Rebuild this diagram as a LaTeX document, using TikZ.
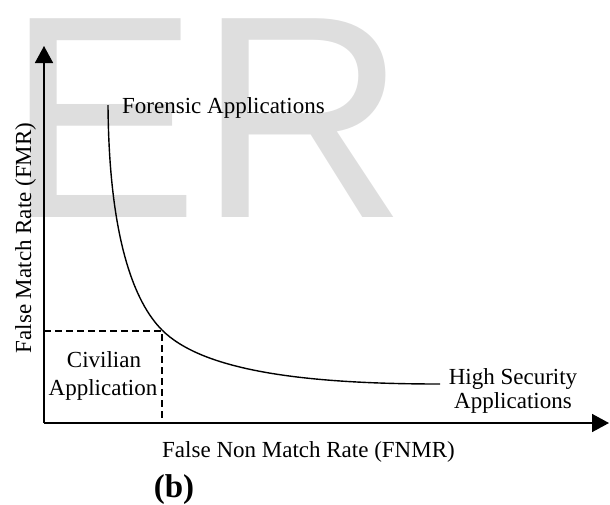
\documentclass[tikz,border=0pt]{standalone}
\usepackage{fontspec}
\setmainfont{Liberation Serif}
\newfontfamily\wmfont{Liberation Sans}
\usetikzlibrary{arrows.meta}
\definecolor{wm}{RGB}{222,222,222}
\begin{document}
\begin{tikzpicture}[x=1pt,y=-1pt,
  lbl/.style={inner sep=0pt, font=\fontsize{23}{24}\selectfont},
  axisline/.style={line width=1.6pt, -{Triangle[length=17pt,width=18pt]}},
  dashline/.style={line width=1.3pt, dash pattern=on 7pt off 4pt},
  curveline/.style={line width=1.4pt}]
\useasboundingbox (0,0) rectangle (610,504);
% watermark
\node[anchor=base west, inner sep=0pt, text=wm, font=\wmfont\fontsize{289}{289}\selectfont] (wm) at (6,217) {ER};
% axes
\coordinate (O) at (44,423);
\coordinate (ytip) at (44,46);
\coordinate (xtip) at (609,423);
\draw[axisline] (O) -- (ytip);
\draw[axisline] (O) -- (xtip);
% dashed box
\coordinate (dy) at (44,331);
\coordinate (dc) at (162,331);
\coordinate (dx) at (162,423);
\draw[dashline] (dy) -- (dc) -- (dx);
% curve
\coordinate (cs) at (108,105);
\coordinate (cm) at (162,330);
\coordinate (ce) at (440,384);
\draw[curveline] (cs) .. controls (109,240) and (135,303) .. (cm)
                      .. controls (202,370) and (300,384) .. (ce);
% labels
\node[lbl, anchor=base west] (fa) at (122,113) {Forensic Applications};
\node[lbl, anchor=base] (civ1) at (104,367) {Civilian};
\node[lbl, anchor=base] (civ2) at (103,395) {Application};
\node[lbl, anchor=base] (hs1) at (513,384) {High Security};
\node[lbl, anchor=base] (hs2) at (513,408) {Applications};
\node[lbl, anchor=base west] (xl) at (162,457) {False Non Match Rate (FNMR)};
\node[lbl, rotate=90, anchor=base] (yl) at (31,238) {False Match Rate (FMR)};
\node[anchor=base, inner sep=0pt, font=\bfseries\fontsize{33}{33}\selectfont] (b) at (174,497) {(b)};
\end{tikzpicture}
\end{document}
